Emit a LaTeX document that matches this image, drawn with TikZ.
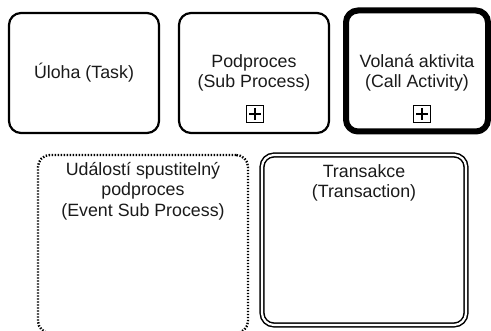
\documentclass[tikz,border=0pt]{standalone}
\usepackage{fontspec}
\setmainfont{Liberation Sans}
\definecolor{txt}{HTML}{1A1A1A}
\begin{document}
\begin{tikzpicture}[x=1pt,y=-1pt,
  box/.style={draw=black,line width=2.2pt,rounded corners=12pt,minimum width=#1,inner sep=0pt},
  lbl/.style={align=center,text=txt,font=\fontsize{17.8}{20.5}\selectfont,inner sep=0pt},
  plusbox/.style={draw=black,line width=1.4pt,minimum width=17pt,minimum height=17pt,inner sep=0pt},
  plusarm/.style={line width=2.4pt}]
\useasboundingbox (0,0) rectangle (491,331);
% Task
\node[box=150pt,minimum height=120pt] (task) at (84,73) {};
\node[lbl] (tasklbl) at (84,73) {Úloha (Task)};
% Sub process
\node[box=150pt,minimum height=120pt] (sub) at (254,73) {};
\node[lbl] (sublbl) at (254,73) {Podproces\\(Sub Process)};
\node[plusbox] (subplus) at (255,114) {};
\draw[plusarm] (subplus.center) ++(-6,0) -- ++(12,0);
\draw[plusarm] (subplus.center) ++(0,-6) -- ++(0,12);
% Call activity
\node[box=142pt,minimum height=121pt,line width=6pt] (call) at (417,71) {};
\node[lbl] (calllbl) at (417,73) {Volaná aktivita\\(Call Activity)};
\node[plusbox] (callplus) at (422,114) {};
\draw[plusarm] (callplus.center) ++(-6,0) -- ++(12,0);
\draw[plusarm] (callplus.center) ++(0,-6) -- ++(0,12);
% Event sub process
\node[box=210pt,minimum height=178pt,line width=2.4pt,dash pattern=on 1.4pt off 1.6pt] (evt) at (143,244) {};
\node[lbl,anchor=north] (evtlbl) at (143,162) {Událostí spustitelný\\podproces\\(Event Sub Process)};
% Transaction
\node[box=204pt,minimum height=170pt,line width=1.5pt,double=white,double distance=2.2pt] (tra) at (364,240) {};
\node[lbl,anchor=north] (tralbl) at (364,164) {Transakce\\(Transaction)};
\end{tikzpicture}
\end{document}
